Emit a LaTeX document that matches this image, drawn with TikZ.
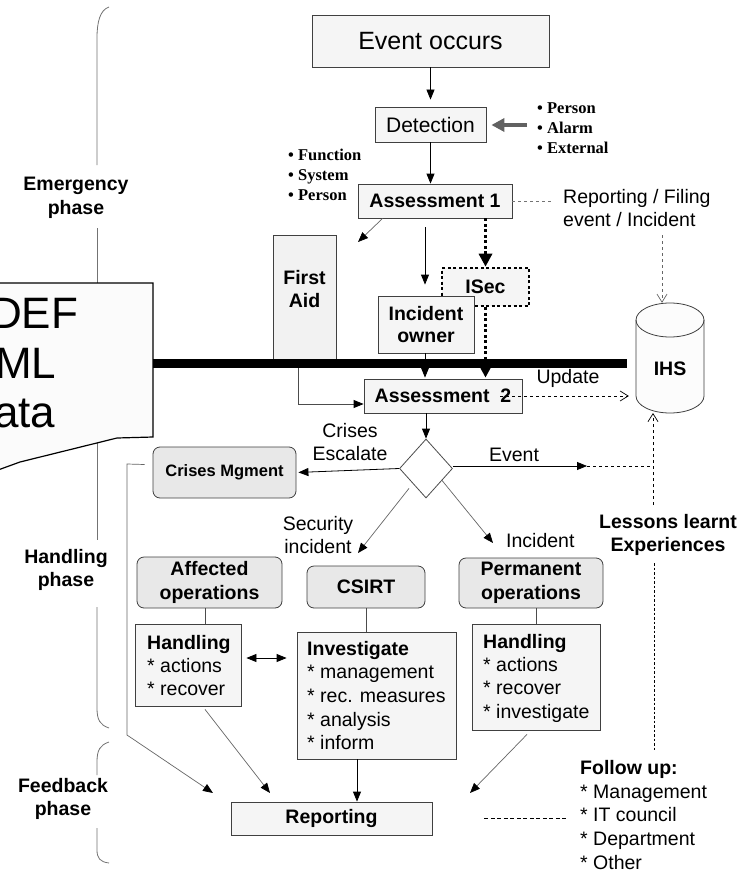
\documentclass[tikz,border=0pt]{standalone}
\usepackage{fontspec}
\setmainfont{Liberation Sans}
\newfontfamily\serifb{Liberation Serif}
\usetikzlibrary{arrows.meta,shapes.geometric,calc}
\begin{document}
\begin{tikzpicture}[x=1pt,y=-1pt,
  box/.style={draw=black!75, fill=black!4, line width=0.8pt, inner sep=0pt},
  rbox/.style={box, fill=black!9, rounded corners=7pt},
  lbl/.style={inner sep=0pt, align=center, font=\fontsize{19.5}{23.5}\selectfont},
  blbl/.style={lbl, font=\fontsize{19.5}{23.5}\selectfont\bfseries},
  bul/.style={inner sep=0pt, align=left, anchor=west, font=\fontsize{16.5}{20}\selectfont\serifb\bfseries},
  brace/.style={draw=black!55, line width=0.8pt},
  flow/.style={-{Triangle[length=10pt,width=8pt]}, line width=0.8pt},
  gflow/.style={-{Triangle[length=10pt,width=8pt,color=black]}, draw=black!60, line width=0.7pt},
  dflow/.style={-{Straight Barb[length=8pt,width=10pt]}, dashed, line width=0.7pt},
  dotflow/.style={-{Triangle[length=13pt,width=13pt]}, line width=3.2pt, dash pattern=on 3pt off 2.5pt},
  big/.style={anchor=base west, inner sep=0pt, font=\fontsize{44}{50}\selectfont}
]
\useasboundingbox (0,0) rectangle (754,872);
\clip (0,0) rectangle (754,872);
\fill[white] (0,0) rectangle (754,872);

% phase braces
\draw[brace] (109,7) .. controls (100,10) and (97,22) .. (97,38) -- (97,165);
\draw[brace] (97,228) -- (97,540);
\draw[brace] (97,607) -- (97,708) .. controls (97,720) and (100,725) .. (109,728);
\draw[brace] (109,742) .. controls (100,745) and (97,750) .. (97,762) -- (97,775);
\draw[brace] (97,828) -- (97,850) .. controls (97,858) and (100,862) .. (109,863);
\node[blbl] (ph1) at (76,198) {Emergency\\phase};
\node[blbl] (ph2) at (66,570) {Handling\\phase};
\node[blbl] (ph3) at (63,799) {Feedback\\phase};

% data shape at left
\draw[fill=black!1.5, line width=1.2pt] (-2,283) -- (153,283) -- (153,437) -- (117,438) -- (20,462) -- (-2,470);
\coordinate (barL) at (153,363.5);
\node[big] (t1) at (-10,328) {DEF};
\node[big] (t2) at (-5,378) {ML};
\node[big] (t3) at (-6,427) {ata};

% top chain
\node[box, minimum width=237pt, minimum height=52pt, font=\fontsize{25}{30}\selectfont] (ev) at (430.5,41) {Event occurs};
\node[box, minimum width=111pt, minimum height=35pt, font=\fontsize{21}{25}\selectfont] (det) at (430.5,124.5) {Detection};
\node[box, minimum width=154pt, minimum height=34pt, font=\fontsize{19.5}{23.5}\selectfont\bfseries] (a1) at (435,201) {Assessment 1};
\node[bul] (src) at (537,128) {\textbullet\ Person\\\textbullet\ Alarm\\\textbullet\ External};
\node[bul] (who) at (288,175) {\textbullet\ Function\\\textbullet\ System\\\textbullet\ Person};
\coordinate (graystart) at (527,125);

\draw[flow] (ev.south) -- (det.north) [shorten >=7pt];
\draw[flow] (det.south) -- (det.south |- a1.north);
\draw[-{Triangle[length=13pt,width=13pt]}, draw=black!62, fill=black!62, line width=3.5pt, shorten >=5pt] (graystart) -- (graystart -| det.east);

% reporting / filing
\node[lbl, align=left, anchor=west] (repfil) at (563,208) {Reporting / Filing\\event / Incident};
\draw[draw=black!55, dashed, line width=0.7pt] (a1.east) -- ++(41,0);

% first aid, isec, incident owner
\node[box, fill=black!5, minimum width=63pt, minimum height=127pt] (fa) at (304.5,298.5) {};
\node[blbl] (fatext) at (304.5,289) {First\\Aid};
\node[box, fill=black!4, draw=black, dash pattern=on 3pt off 2.5pt, line width=2.6pt, minimum width=87pt, minimum height=38pt, font=\fontsize{19.5}{23.5}\selectfont\bfseries] (isec) at (485.5,287) {ISec};
\node[box, minimum width=96pt, minimum height=57pt, align=center, font=\fontsize{19.5}{22}\selectfont\bfseries] (io) at (426,324.5) {Incident\\owner};

\coordinate (fatip) at (358,242);
\draw[gflow] ($(a1.south west)+(25,0)$) -- (fatip);
\draw[flow] ($(a1.south)+(-10,9)$) -- ($(io.north)+(-1,-11)$);
\draw[dotflow] (a1.south -| isec.north) -- (isec.north);

% thick bar
\coordinate (barR) at (627,363.5);
\draw[line width=9pt] (barL) -- (barR);

% assessment 2
\node[box, minimum width=158pt, minimum height=34pt, font=\fontsize{19.5}{23.5}\selectfont\bfseries] (a2) at (443,396) {Assessment \ 2};
\draw[dotflow, shorten >=1pt] (isec.south) -- (isec.south |- a2.north);
\draw[flow, shorten >=1pt] (io.south -| 425,0) -- (a2.north -| 425,0);
\draw[draw=black!70, line width=0.8pt, -{Triangle[length=10pt,width=8pt,color=black]}] (298,368) |- ($(a2.west)+(0,8)$);

% IHS cylinder
\node[minimum width=68pt, minimum height=110pt, inner sep=0pt] (ihs) at (670,358) {};
\draw[draw=black!75, fill=black!1, line width=0.8pt] (636,320) -- (636,396) arc[start angle=180, end angle=0, x radius=34, y radius=17] -- (704,320) arc[start angle=0, end angle=-180, x radius=34, y radius=17] -- cycle;
\draw[draw=black!75, line width=0.8pt] (636,320) arc[start angle=180, end angle=0, x radius=34, y radius=17];
\node[blbl] (ihstext) at (670,369) {IHS};

\draw[dflow, draw=black!60] (662,235) -- (ihs.north -| 662,0);
\draw[dflow] ($(a2.east)+(-22,0)$) -- ($(ihs.west)+(-7,38)$);
\node[lbl] (upd) at (568,378) {Update};

% decision diamond
\node[diamond, draw=black!70, fill=white, line width=0.8pt, minimum width=53pt, minimum height=59pt, inner sep=0pt] (dia) at (426,468.5) {};
\draw[flow] (a2.south -| dia.north) -- (dia.north);

\node[rbox, minimum width=143pt, minimum height=51pt, font=\fontsize{16.5}{20}\selectfont\bfseries] (cm) at (224.5,472.5) {Crises Mgment};
\draw[flow] (dia.west) -- (cm.east) [shorten >=2pt];
\node[lbl] (esc) at (350,442) {Crises\\Escalate};

\coordinate (evtip) at (587,466);
\draw[flow] (dia.east |- evtip) -- (evtip);
\node[lbl] (evlbl) at (514,455) {Event};
\node[blbl] (lessons) at (668,535) {Lessons learnt\\Experiences};
\draw[dashed, line width=0.7pt] (evtip) -- (evtip -| 653,0);
\draw[dflow] (653,505) -- (653,413);
\draw[line width=0.8pt, dash pattern=on 2.5pt off 2pt] (654,563) -- (654,750);

% handling branches
\node[rbox, minimum width=145pt, minimum height=51pt, align=center, font=\fontsize{19.5}{23.5}\selectfont\bfseries] (ao) at (209.5,582.5) {Affected\\operations};
\node[rbox, minimum width=118pt, minimum height=42pt, font=\fontsize{19.5}{23.5}\selectfont\bfseries] (csirt) at (366,587) {CSIRT};
\node[rbox, minimum width=144pt, minimum height=50pt, align=center, font=\fontsize{19.5}{23.5}\selectfont\bfseries] (po) at (531,583) {Permanent\\operations};

\coordinate (sitip) at (358,553);
\coordinate (intip) at (493,543);
\draw[gflow] ($(dia.south)+(-17,-10)$) -- (sitip);
\draw[gflow] ($(dia.south)+(16,-18)$) -- (intip);
\node[lbl] (silbl) at (318,535) {Security\\incident};
\node[lbl, anchor=west] (inlbl) at (506,541) {Incident};

\node[box, minimum width=106pt, minimum height=82pt] (h1) at (188,665) {};
\node[box, minimum width=159pt, minimum height=127pt] (inv) at (376.5,695.5) {};
\node[box, minimum width=128pt, minimum height=106pt] (h2) at (536,677) {};
\node[lbl, anchor=west, align=left, font=\fontsize{19.5}{23}\selectfont] (h1t) at (147,666) {\textbf{Handling}\\{}* actions\\{}* recover};
\node[lbl, anchor=west, align=left, font=\fontsize{19.5}{23.7}\selectfont] (invt) at (307,695.5) {\textbf{Investigate}\\{}* management\\{}* rec. measures\\{}* analysis\\{}* inform};
\node[lbl, anchor=west, align=left, font=\fontsize{19.5}{23.3}\selectfont] (h2t) at (483,678) {\textbf{Handling}\\{}* actions\\{}* recover\\{}* investigate};

\coordinate (x205) at (205,0);
\coordinate (x536) at (536,0);
\draw[draw=black!70, line width=0.8pt] (ao.south -| x205) -- (h1.north -| x205);
\draw[draw=black!70, line width=0.8pt] (csirt.south) -- (csirt.south |- inv.north);
\draw[draw=black!70, line width=0.8pt] (po.south -| x536) -- (h2.north -| x536);
\draw[{Triangle[length=10pt,width=8pt]}-{Triangle[length=10pt,width=8pt]}, line width=0.8pt] ($(h1.east)+(5,-7)$) -- ($(inv.west)+(-10,-37.5)$);

% reporting
\node[box, minimum width=201pt, minimum height=33pt, font=\fontsize{19.5}{23.5}\selectfont\bfseries] (rep) at (331.5,818.5) {Reporting};
\coordinate (rt1) at (213,793);
\coordinate (rt2) at (270,793);
\coordinate (rt3) at (470,793);
\draw[gflow] ($(cm.west)+(-8,-8)$) -- (127,464) -- (127,735) -- (rt1);
\draw[gflow] ($(h1.south)+(17,3)$) -- (rt2);
\draw[flow] (inv.south -| 357,0) -- (rep.north -| 357,0);
\draw[gflow] ($(h2.south)+(-9,4)$) -- (rt3);

\node[lbl, anchor=west, align=left, font=\fontsize{19.5}{23.75}\selectfont] (fu) at (580,815) {\textbf{Follow up:}\\{}* Management\\{}* IT council\\{}* Department\\{}* Other};
\draw[line width=0.8pt, dash pattern=on 4pt off 2.5pt] ($(rep.east)+(52,0)$) -- ($(rep.east)+(136,0)$);
\end{tikzpicture}
\end{document}
